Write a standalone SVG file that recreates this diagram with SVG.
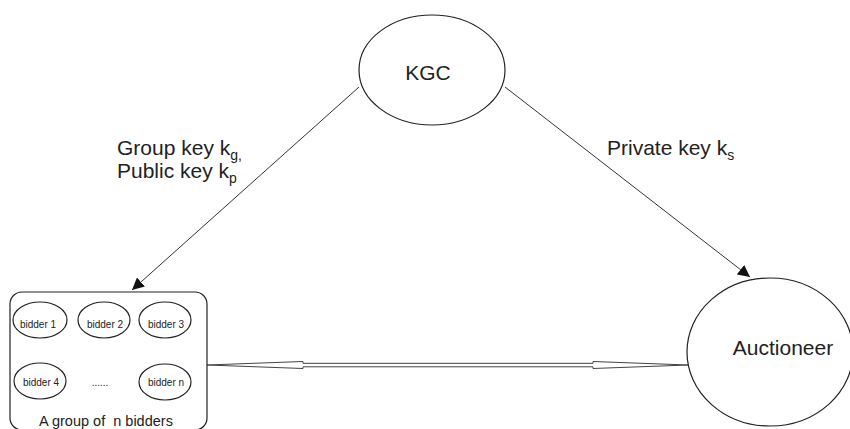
<svg xmlns="http://www.w3.org/2000/svg" width="850" height="429" viewBox="0 0 850 429">
<style>
.shape{fill:#fff;stroke:#222;stroke-width:1.2}
.big{font-family:"Liberation Sans",Arial,sans-serif;font-size:21px;fill:#222}
.lab{font-family:"Liberation Sans",Arial,sans-serif;font-size:21px;fill:#222}
.sub{font-size:14px}
.small{font-family:"Liberation Sans",Arial,sans-serif;font-size:10px;fill:#222;text-anchor:middle}
.cap{font-family:"Liberation Sans",Arial,sans-serif;font-size:14.5px;fill:#222;text-anchor:middle;white-space:pre}
.conn{stroke:#333;stroke-width:1;fill:none}
</style>
<defs>
<marker id="ah" viewBox="0 0 10 10" refX="10" refY="5" markerWidth="12" markerHeight="12" markerUnits="userSpaceOnUse" orient="auto">
<path d="M0,0 L10,5 L0,10 z" fill="#111"/>
</marker>
</defs>
<g id="connectors">
<line class="conn" x1="359" y1="87" x2="132" y2="290" marker-end="url(#ah)"/>
<line class="conn" x1="505" y1="87" x2="750" y2="277" marker-end="url(#ah)"/>
<polygon points="207,365 303,361.5 303,363.3 593,363.3 593,361.5 688,365 593,368.5 593,366.8 303,366.8 303,368.5" fill="#fff" stroke="#444" stroke-width="1"/>
</g>
<g id="kgc">
<ellipse class="shape" cx="432" cy="70" rx="73" ry="55"/>
<text class="big" x="428" y="80" text-anchor="middle">KGC</text>
</g>
<g id="auctioneer">
<ellipse class="shape" cx="770" cy="352" rx="83" ry="74"/>
<text class="big" x="783" y="355" text-anchor="middle">Auctioneer</text>
</g>
<g id="labels">
<text class="lab" x="117" y="155">Group key k<tspan class="sub" dy="5">g,</tspan></text>
<text class="lab" x="117" y="178">Public key k<tspan class="sub" dy="5">p</tspan></text>
<text class="lab" x="607" y="155">Private key k<tspan class="sub" dy="5">s</tspan></text>
</g>
<g id="group">
<rect class="shape" x="10" y="292" width="197" height="138" rx="12" ry="12"/>
<g id="bidder1"><ellipse class="shape" cx="40" cy="320" rx="27" ry="18"/><text class="small" x="38" y="328">bidder 1</text></g>
<g id="bidder2"><ellipse class="shape" cx="104" cy="320" rx="26" ry="18"/><text class="small" x="105" y="328">bidder 2</text></g>
<g id="bidder3"><ellipse class="shape" cx="165" cy="320" rx="26" ry="18"/><text class="small" x="166" y="328">bidder 3</text></g>
<g id="bidder4"><ellipse class="shape" cx="40" cy="381" rx="26" ry="18"/><text class="small" x="41" y="386">bidder 4</text></g>
<g id="dots"><text class="small" x="100" y="386">......</text></g>
<g id="biddern"><ellipse class="shape" cx="165" cy="382" rx="26" ry="18"/><text class="small" x="166" y="386">bidder n</text></g>
<text class="cap" x="106" y="426">A group of  n bidders</text>
</g>
</svg>
